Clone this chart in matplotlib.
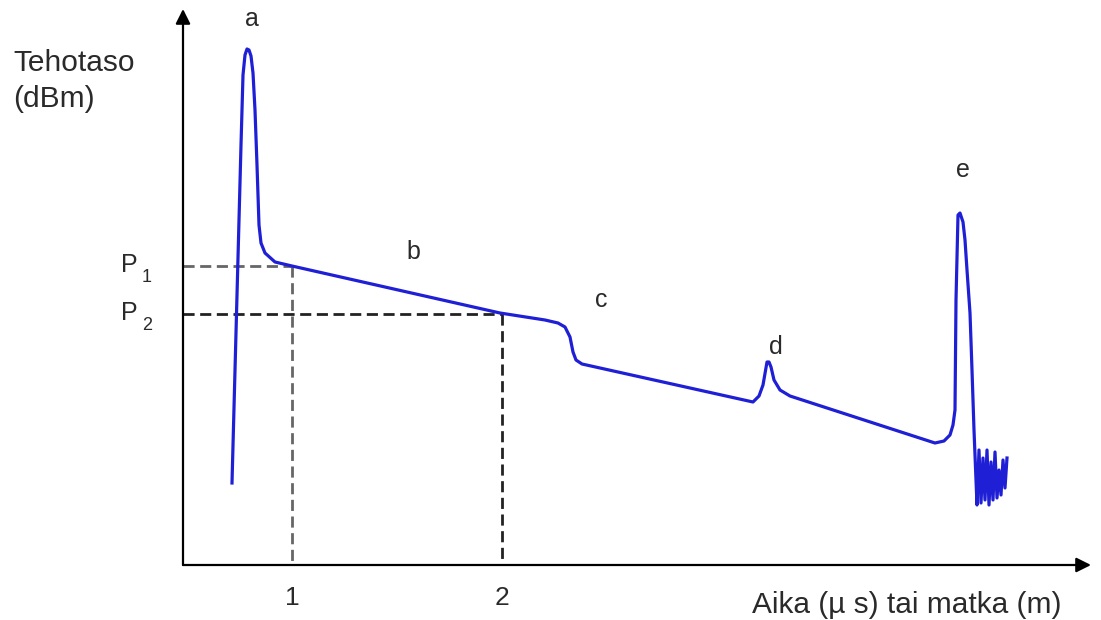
import matplotlib.pyplot as plt

plt.rcParams['font.family'] = ['Liberation Sans', 'DejaVu Sans']

# OTDR-käyrä: etäisyys ja tehotaso (mielivaltaiset yksiköt, origo akselien kulmassa)
distance = [49, 58, 60, 62, 64, 66, 68, 70, 72, 74, 76, 78, 82, 92, 109,
            317, 362, 375, 382, 387, 390, 393, 399,
            570, 576, 580, 584, 586, 588, 591, 597, 607,
            752, 761, 767, 770, 772, 773, 775, 777, 780, 782, 784, 787, 789, 791, 793, 794,
            796, 798, 800, 802, 804, 806, 808, 810, 812, 814, 816, 818, 820, 822, 824]
level = [82, 420, 490, 510, 516, 515, 509, 492, 455, 400, 340, 322, 312, 303, 299,
         252, 245, 242, 238, 228, 213, 205, 201,
         163, 169, 180, 203, 203, 198, 185, 175, 169,
         122, 124, 130, 140, 155, 265, 350, 352, 343, 325, 295, 252, 195, 135, 85, 60,
         115, 62, 107, 65, 115, 60, 103, 65, 113, 67, 95, 70, 105, 77, 107]

# mittapisteet 1 ja 2
x_marks = [109, 319]
p_levels = [299, 251]
x_tick_labels = ['1', '2']
p_subs = ['1', '2']
dash_colors = ['#666666', '#222222']

# tapahtumat a..e
event_labels = ['a', 'b', 'c', 'd', 'e']
event_x = [69, 230, 418, 593, 780]
event_y = [546, 313, 265, 218, 395]

fig = plt.figure(figsize=(11.01, 6.2), dpi=100)
ax = fig.add_axes([0, 0, 1, 1])
ax.set_xlim(-183, 918)
ax.set_ylim(-55, 565)
ax.axis('off')

txt = '#2a2a2a'

# akselit nuolineen
ax.annotate('', xy=(0, 556), xytext=(0, 0),
            arrowprops=dict(arrowstyle='-|>', color='black', lw=1.6,
                            mutation_scale=22, shrinkA=0, shrinkB=0))
ax.annotate('', xy=(908, 0), xytext=(0, 0),
            arrowprops=dict(arrowstyle='-|>', color='black', lw=1.6,
                            mutation_scale=22, shrinkA=0, shrinkB=0))

# katkoviivat
for xm, pl, c in zip(x_marks, p_levels, dash_colors):
    ax.plot([0, xm], [pl, pl], color=c, lw=2, dashes=(4, 2))
    ax.plot([xm, xm], [pl, 0], color=c, lw=2, dashes=(4, 2))

ax.plot(distance, level, color='#1f1fd6', lw=2.3, solid_joinstyle='round')

for xm, lab in zip(x_marks, x_tick_labels):
    ax.text(xm, -33, lab, ha='center', va='center', fontsize=19, color=txt)
for pl, sub in zip(p_levels, p_subs):
    ax.text(-45, pl + 1, 'P', ha='right', va='center', fontsize=18, color=txt)
    ax.text(-36, pl - 11, sub, ha='center', va='center', fontsize=13, color=txt)
for lab, ex, ey in zip(event_labels, event_x, event_y):
    ax.text(ex, ey, lab, ha='center', va='center', fontsize=18, color=txt)

ax.text(-170, 484, 'Tehotaso\n(dBm)', ha='left', va='center', fontsize=21.5,
        color=txt, linespacing=1.4)
ax.text(569, -40, 'Aika (µ s) tai matka (m)', ha='left', va='center',
        fontsize=21.5, color=txt)

fig.savefig('out.png', dpi=100)
